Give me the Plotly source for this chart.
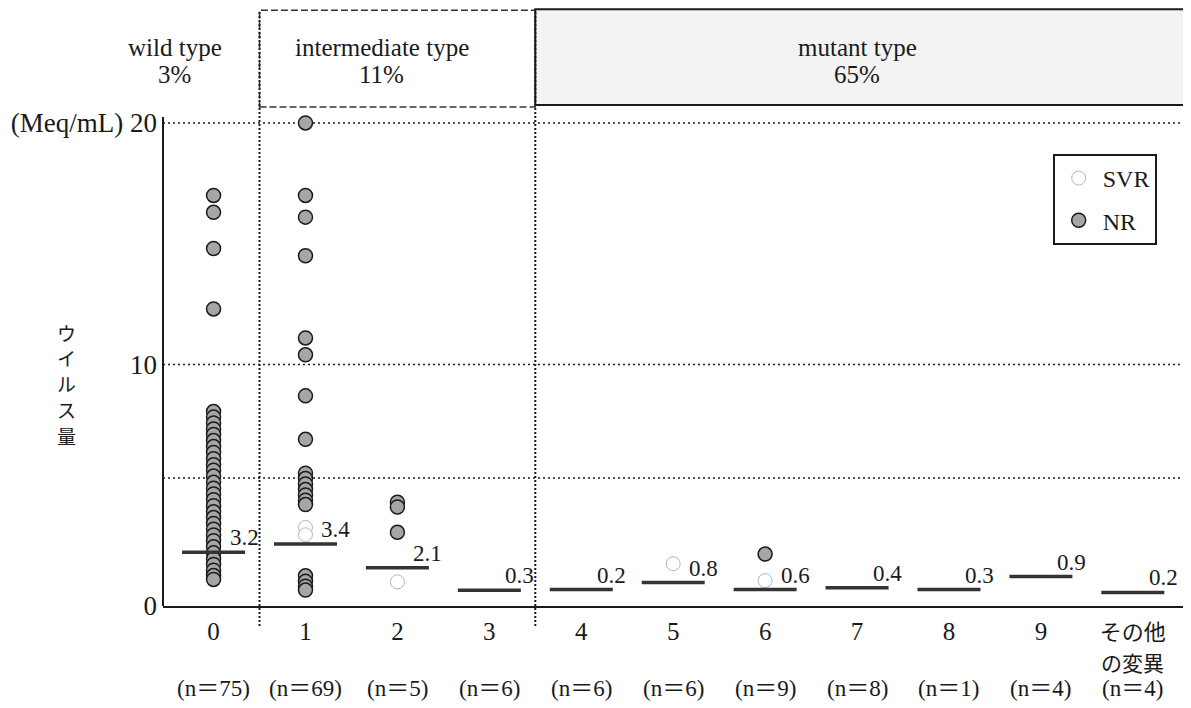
import plotly.graph_objects as go

# ---------------- data ----------------
categories = ["0", "1", "2", "3", "4", "5", "6", "7", "8", "9",
              "<span style='font-size:22px'>その他</span>"]
cat_pos = list(range(len(categories)))
cat10_second_line = "の変異"
n_labels = ["(n＝75)", "(n＝69)", "(n＝5)", "(n＝6)", "(n＝6)", "(n＝6)",
            "(n＝9)", "(n＝8)", "(n＝1)", "(n＝4)", "(n＝4)"]

# horizontal bar positions (as drawn) and their printed labels
median_y = [2.23, 2.57, 1.58, 0.65, 0.68, 0.97, 0.68, 0.76, 0.68, 1.22, 0.56]
median_labels = ["3.2", "3.4", "2.1", "0.3", "0.2", "0.8", "0.6", "0.4", "0.3", "0.9", "0.2"]

# NR patients (filled circles)
nr_cat0 = [17.0, 16.3, 14.8, 12.3,
           8.05, 7.82, 7.58, 7.33, 7.1, 6.85, 6.6, 6.36, 6.1, 5.85, 5.62, 5.38,
           5.12, 4.88, 4.64, 4.4, 4.15, 3.9, 3.66, 3.42, 3.18, 2.94, 2.7, 2.45,
           2.2, 1.96, 1.72, 1.48, 1.26, 1.1]
nr_cat1 = [20.0, 17.0, 16.1, 14.5, 11.1, 10.4, 8.7, 6.9,
           5.5, 5.28, 5.05, 4.82, 4.6, 4.38, 4.2,
           1.25, 1.02, 0.82, 0.66]
nr_cat2 = [4.3, 4.1, 3.05]
nr_cat6 = [2.15]
nr_x = [0] * len(nr_cat0) + [1] * len(nr_cat1) + [2] * len(nr_cat2) + [6] * len(nr_cat6)
nr_y = nr_cat0 + nr_cat1 + nr_cat2 + nr_cat6

# SVR patients (open circles, faint in the print)
svr_x = [1, 1, 2, 5, 6]
svr_y = [3.25, 2.95, 1.0, 1.75, 1.05]

# group headers
group_names = ["wild type", "intermediate type", "mutant type"]
group_pct = ["3%", "11%", "65%"]
group_text_x = [-0.42, 1.83, 7.0]
group_edges = [0.5, 3.5]          # separators between groups
ref_lines = [20, 10, 5.3]         # dotted reference levels

y_ticks = [0, 10, 20]
y_ticktext = ["0", "10", "(Meq/mL) 20"]
y_title_chars = ["ウ", "イ", "ル", "ス", "量"]

# ---------------- figure ----------------
SERIF = "Liberation Serif, Times New Roman, serif"
JP = "Noto Sans CJK JP"
INK = "#1a1a1a"

fig = go.Figure()

fig.add_trace(go.Scatter(
    x=svr_x, y=svr_y, mode="markers", name="SVR",
    marker=dict(symbol="circle", size=14, color="white",
                line=dict(color="#b5b5b5", width=1)),
    legendgroup="svr",
))
fig.add_trace(go.Scatter(
    x=nr_x, y=nr_y, mode="markers", name="NR",
    marker=dict(symbol="circle", size=14, color="#a6a6a6",
                line=dict(color=INK, width=1.5)),
    legendgroup="nr",
))
fig.add_trace(go.Scatter(
    x=cat_pos, y=median_y, mode="markers", showlegend=False,
    marker=dict(symbol="line-ew", size=45, color="#333",
                line=dict(color="#333", width=3.5)),
    hoverinfo="skip",
))

# median labels
for xi, yi, lab in zip(cat_pos, median_y, median_labels):
    fig.add_annotation(x=xi, y=yi, text=lab, showarrow=False,
                       xanchor="left", yanchor="bottom", xshift=14, yshift=0,
                       font=dict(family=SERIF, size=23, color=INK))

# second line of the last category label
fig.add_annotation(x=cat_pos[-1], y=-0.112, yref="paper", text=cat10_second_line,
                   showarrow=False, xanchor="center", yanchor="middle",
                   font=dict(family=JP, size=21, color=INK))

# n labels under the categories
for xi, lab in zip(cat_pos, n_labels):
    fig.add_annotation(x=xi, y=-0.166, yref="paper", text=lab, showarrow=False,
                       xanchor="center", yanchor="middle",
                       font=dict(family=SERIF + ", " + JP, size=23, color=INK))

# dotted reference lines
for lv in ref_lines:
    fig.add_shape(type="line", xref="paper", x0=0, x1=1, y0=lv, y1=lv,
                  line=dict(color=INK, width=1.5, dash="2px,3px"), layer="below")

# header boxes
fig.add_shape(type="rect", x0=group_edges[0], x1=group_edges[1],
              yref="paper", y0=1.0, y1=1.194,
              line=dict(color="#333", width=1.5, dash="7px,3px"), layer="below")
fig.add_shape(type="rect", x0=group_edges[1], xref="x", x1=10.6,
              yref="paper", y0=1.004, y1=1.196,
              line=dict(color=INK, width=2), fillcolor="#f3f3f3", layer="below")

# group separators
for e in group_edges:
    fig.add_shape(type="line", x0=e, x1=e, yref="paper", y0=-0.04, y1=1.194,
                  line=dict(color=INK, width=2, dash="2px,2px"))

# y axis line
fig.add_shape(type="line", xref="paper", x0=0, x1=0, y0=0, y1=20.25,
              line=dict(color=INK, width=2))

# header texts
for gx, gn, gp in zip(group_text_x, group_names, group_pct):
    fig.add_annotation(x=gx, y=1.120, yref="paper", text=gn, showarrow=False,
                       xanchor="center", yanchor="middle",
                       font=dict(family=SERIF, size=25, color=INK))
    fig.add_annotation(x=gx, y=1.066, yref="paper", text=gp, showarrow=False,
                       xanchor="center", yanchor="middle",
                       font=dict(family=SERIF, size=25, color=INK))

# vertical y-axis title, one character per row
for k, ch in enumerate(y_title_chars):
    fig.add_annotation(x=-0.094, y=0.549 - k * 0.052, xref="paper", yref="paper",
                       text=ch, showarrow=False, xanchor="center", yanchor="middle",
                       font=dict(family=JP, size=19, color=INK))

# the page adds an 8px body margin; the figure is sized so the plot lands
# where the reference has it inside the 1191x708 window
fig.update_layout(
    width=1183, height=700, autosize=False,
    margin=dict(l=147, r=3, t=99, b=102),
    paper_bgcolor="white", plot_bgcolor="white",
    font=dict(family=SERIF, color=INK),
    legend=dict(x=0.868, y=0.906, xanchor="left", yanchor="top",
                bgcolor="white", bordercolor=INK, borderwidth=2,
                font=dict(family=SERIF, size=24, color=INK),
                itemwidth=38, tracegroupgap=8),
    xaxis=dict(range=[-0.55, 10.6], tickmode="array", tickvals=cat_pos,
               ticktext=categories, showgrid=False, zeroline=False,
               showline=True, linecolor=INK, linewidth=2, ticks="",
               ticklabelstandoff=2,
               tickfont=dict(family=SERIF + ", " + JP, size=25, color=INK)),
    yaxis=dict(range=[0, 20.66], tickmode="array", tickvals=y_ticks,
               ticktext=y_ticktext, showgrid=False, zeroline=False,
               showline=False, ticks="", ticklabelstandoff=5,
               tickfont=dict(family=SERIF, size=27, color=INK)),
)

fig.write_html("out.html")
